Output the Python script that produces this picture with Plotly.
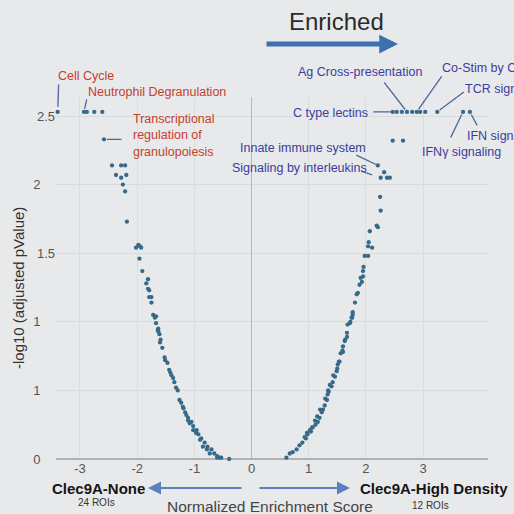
import plotly.graph_objects as go

# ---------------- data ----------------
LEFT_NES = [-3.39, -2.93, -2.88, -2.75, -2.61, -2.58,
            -2.44, -2.28, -2.21, -2.37, -2.28, -2.19, -2.25, -2.21, -2.18,
            -2.02, -1.98, -1.95, -1.93, -1.96, -1.91, -1.81, -1.84, -1.81, -1.79,
            -1.79, -1.75, -1.75, -1.72, -1.67, -1.67, -1.63,
            -1.63, -1.61, -1.60, -1.56, -1.51, -1.47, -1.44, -1.42, -1.40, -1.35,
            -1.32, -1.26, -1.23, -1.19, -1.14, -1.11, -1.05, -1.02, -0.96, -0.93,
            -0.88, -0.82, -0.77, -0.70, -0.65, -0.60, -0.53, -0.39,
            -1.69, -1.64, -1.59, -1.52, -1.37, -1.29, -1.20, -1.16, -1.11, -1.08,
            -1.02, -0.97, -0.90, -0.85, -0.78, -0.73, -0.60, -0.55]
LEFT_LOGP = [2.53, 2.53, 2.53, 2.53, 2.53, 2.33,
             2.14, 2.14, 2.14, 2.07, 2.05, 2.07, 2.00, 1.95, 1.73,
             1.54, 1.56, 1.55, 1.54, 1.46, 1.37, 1.31, 1.28, 1.24, 1.23,
             1.18, 1.18, 1.14, 1.05, 1.04, 0.99, 0.95,
             0.93, 0.91, 0.85, 0.81, 0.72, 0.70, 0.65, 0.63, 0.61, 0.56,
             0.52, 0.43, 0.41, 0.37, 0.32, 0.30, 0.27, 0.24, 0.21, 0.18,
             0.15, 0.12, 0.09, 0.07, 0.04, 0.02, 0.01, 0.00,
             1.03, 0.94, 0.87, 0.74, 0.59, 0.50, 0.38, 0.34, 0.28, 0.26,
             0.21, 0.19, 0.14, 0.09, 0.07, 0.04, 0.01, 0.01]

RIGHT_NES = [2.47, 2.54, 2.63, 2.72, 2.81, 2.89, 2.95, 3.04, 3.25, 3.70, 3.82,
             2.47, 2.65, 2.21, 2.32, 2.26, 2.37, 2.42, 2.25, 2.26, 2.19, 2.21,
             2.07, 2.05, 2.04, 2.11, 1.98, 2.04, 1.96, 1.95, 1.95, 1.91, 1.93,
             1.89, 1.86, 1.84, 1.81, 1.77, 1.77, 1.75, 1.72, 1.68, 1.67, 1.67,
             1.63, 1.60, 1.60, 1.56, 1.54, 1.51, 1.49, 1.46, 1.42, 1.40, 1.35,
             1.33, 1.32, 1.28, 1.25, 1.23, 1.19, 1.16, 1.12, 1.07, 1.04, 0.98,
             0.95, 0.89, 0.84, 0.79, 0.72, 0.67, 0.61,
             0.93, 0.97, 1.02, 1.06, 1.11, 1.15, 1.20, 1.29, 1.34, 1.37, 1.43,
             1.50, 1.53, 1.59, 1.64, 1.73, 1.76]
RIGHT_LOGP = [2.53, 2.53, 2.53, 2.53, 2.53, 2.53, 2.53, 2.53, 2.53, 2.53, 2.53,
              2.32, 2.32, 2.14, 2.09, 2.05, 2.05, 2.05, 1.91, 1.81, 1.70, 1.69,
              1.66, 1.58, 1.55, 1.54, 1.48, 1.48, 1.40, 1.37, 1.33, 1.32, 1.29,
              1.27, 1.21, 1.20, 1.14, 1.07, 1.05, 1.03, 0.99, 0.98, 0.92, 0.89,
              0.86, 0.82, 0.78, 0.77, 0.71, 0.69, 0.64, 0.60, 0.56, 0.53, 0.49,
              0.47, 0.43, 0.39, 0.36, 0.34, 0.30, 0.27, 0.25, 0.23, 0.20, 0.18,
              0.15, 0.12, 0.10, 0.07, 0.05, 0.04, 0.01,
              0.16, 0.19, 0.21, 0.23, 0.28, 0.31, 0.36, 0.44, 0.50, 0.54, 0.61,
              0.66, 0.71, 0.79, 0.87, 1.00, 1.03]

X_TICKS = [-3, -2, -1, 0, 1, 2, 3]
X_TICK_LABELS = ["-3", "-2", "-1", "0", "1", "2", "3"]
Y_TICKS = [0, 0.5, 1, 1.5, 2, 2.5]
Y_TICK_LABELS = ["0", "1", "1", "1.5", "2", "2.5"]

# labelled pathways: (text, index into series)
LEFT_LABELS = [("Cell Cycle", 0), ("Neutrophil Degranulation", 1),
               ("Transcriptional<br>regulation of<br>granulopoiesis", 5)]
RIGHT_LABELS = [("C type lectins", 0), ("Ag Cross-presentation", 3),
                ("Co-Stim by CD28", 5), ("TCR signaling", 8),
                ("IFN signaling", 10), ("IFNγ signaling", 9),
                ("Innate immune system", 13), ("Signaling by interleukins", 15)]

# ---------------- layout geometry ----------------
W = H = 514
L, R, T, B = 56, 488, 97, 459
X_RANGE = [(L - 251.5) / 57.17, (R - 251.5) / 57.17]
Y_RANGE = [0, (B - T) / 137.2]


def px(x):
    return (x - L) / (R - L)


def py(y):
    return (B - y) / (B - T)


FONT = "Liberation Sans, Arial, sans-serif"
BG = "#e8e9eb"
RED = "#c4402c"
BLUE_TXT = "#3a3d9e"
LINE_C = "#4e6699"
DOT = "#356a8a"

fig = go.Figure()
fig.add_trace(go.Scatter(x=LEFT_NES, y=LEFT_LOGP, mode="markers",
                         marker=dict(size=4.3, color=DOT), cliponaxis=False,
                         showlegend=False))
fig.add_trace(go.Scatter(x=RIGHT_NES, y=RIGHT_LOGP, mode="markers",
                         marker=dict(size=4.3, color=DOT), cliponaxis=False,
                         showlegend=False))

ann = []

# leader lines: (series x, series y, idx, ax, ay, standoff)
leaders = [
    (LEFT_NES, LEFT_LOGP, 0, 1, -29, 5),
    (LEFT_NES, LEFT_LOGP, 1, 3, -14, 3),
    (LEFT_NES, LEFT_LOGP, 5, 19, 0, 3),
    (RIGHT_NES, RIGHT_LOGP, 0, -21, 0, 2),
    (RIGHT_NES, RIGHT_LOGP, 3, -24, -31, 3),
    (RIGHT_NES, RIGHT_LOGP, 5, 26, -37, 3),
    (RIGHT_NES, RIGHT_LOGP, 8, 28, -21, 3),
    (RIGHT_NES, RIGHT_LOGP, 10, 8, 15, 3),
    (RIGHT_NES, RIGHT_LOGP, 9, -13, 27, 3),
    (RIGHT_NES, RIGHT_LOGP, 13, -23, -11, 2),
    (RIGHT_NES, RIGHT_LOGP, 15, -21, -7, 9),
]
for xs, ys, i, ax, ay, so in leaders:
    ann.append(dict(x=xs[i], y=ys[i], xref="x", yref="y", text="",
                    showarrow=True, arrowhead=0, arrowwidth=1.3,
                    arrowcolor=LINE_C, ax=ax, ay=ay, standoff=so))

# label texts: (left px, center y px, color)
text_pos = {
    "Cell Cycle": (56, 76, RED),
    "Neutrophil Degranulation": (86, 92, RED),
    "Transcriptional<br>regulation of<br>granulopoiesis": (131, 135, RED),
    "C type lectins": (291, 113, BLUE_TXT),
    "Ag Cross-presentation": (296, 72, BLUE_TXT),
    "Co-Stim by CD28": (440, 68, BLUE_TXT),
    "TCR signaling": (463, 89, BLUE_TXT),
    "IFN signaling": (465, 136, BLUE_TXT),
    "IFNγ signaling": (420, 152, BLUE_TXT),
    "Innate immune system": (238, 148, BLUE_TXT),
    "Signaling by interleukins": (230, 168, BLUE_TXT),
}
for name, _ in LEFT_LABELS + RIGHT_LABELS:
    lx, ly, col = text_pos[name]
    ann.append(dict(x=px(lx), y=py(ly), xref="paper", yref="paper",
                    text=name, showarrow=False, xanchor="left",
                    yanchor="middle", align="left",
                    font=dict(family=FONT, size=12.5, color=col)))

# Enriched header + arrow
ann.append(dict(x=px(336), y=py(21), xref="paper", yref="paper",
                text="Enriched", showarrow=False, xanchor="center",
                yanchor="middle", font=dict(family=FONT, size=24, color="#2b2b2b")))
ann.append(dict(x=px(398), y=py(44), xref="paper", yref="paper", text="",
                showarrow=True, arrowhead=2, arrowwidth=5, arrowsize=0.75,
                arrowcolor="#3e6fae", ax=-133, ay=0))

# bottom direction labels
ann.append(dict(x=px(148), y=py(488), xref="paper", yref="paper", text="",
                showarrow=True, arrowhead=2, arrowwidth=2, arrowsize=1.3,
                arrowcolor="#5a80bf", ax=95, ay=0))
ann.append(dict(x=px(350), y=py(488), xref="paper", yref="paper", text="",
                showarrow=True, arrowhead=2, arrowwidth=2, arrowsize=1.3,
                arrowcolor="#5a80bf", ax=-92, ay=0))
ann.append(dict(x=px(147), y=py(488), xref="paper", yref="paper",
                text="<b>Clec9A-None</b>", showarrow=False, xanchor="right",
                yanchor="middle", font=dict(family=FONT, size=15, color="#151515")))
ann.append(dict(x=px(358), y=py(488), xref="paper", yref="paper",
                text="<b>Clec9A-High Density</b>", showarrow=False, xanchor="left",
                yanchor="middle", font=dict(family=FONT, size=15, color="#151515")))
ann.append(dict(x=px(96), y=py(503), xref="paper", yref="paper",
                text="24 ROIs", showarrow=False, xanchor="center",
                yanchor="middle", font=dict(family=FONT, size=10, color="#333")))
ann.append(dict(x=px(430), y=py(505), xref="paper", yref="paper",
                text="12 ROIs", showarrow=False, xanchor="center",
                yanchor="middle", font=dict(family=FONT, size=10, color="#333")))
ann.append(dict(x=px(270), y=py(506), xref="paper", yref="paper",
                text="Normalized Enrichment Score", showarrow=False,
                xanchor="center", yanchor="middle",
                font=dict(family=FONT, size=15.5, color="#444")))
ann.append(dict(x=px(18), y=py(288), xref="paper", yref="paper",
                text="-log10 (adjusted pValue)", showarrow=False, textangle=-90,
                xanchor="center", yanchor="middle",
                font=dict(family=FONT, size=15, color="#333")))

w_max = max(len(t) for t in Y_TICK_LABELS)
y_text = [t + "\u00a0" * 2 * (w_max - len(t)) for t in Y_TICK_LABELS]

fig.update_layout(
    width=W, height=H,
    margin=dict(l=L, r=W - R, t=T, b=H - B, pad=0),
    paper_bgcolor=BG, plot_bgcolor=BG,
    font=dict(family=FONT),
    annotations=ann,
    xaxis=dict(range=X_RANGE, tickvals=X_TICKS, ticktext=X_TICK_LABELS,
               showgrid=True, gridcolor="#dcdddf", gridwidth=1,
               zeroline=True, zerolinecolor="#b5b6b8", zerolinewidth=1,
               showline=False, ticks="",
               tickfont=dict(family=FONT, size=13, color="#555")),
    yaxis=dict(range=Y_RANGE, tickvals=Y_TICKS, ticktext=y_text,
               showgrid=True, gridcolor="#d9dadc", gridwidth=1,
               zeroline=True, zerolinecolor="#b0b1b3", zerolinewidth=1.5,
               showline=False, ticks="",
               tickfont=dict(family=FONT, size=13, color="#555")),
)

fig.write_html("out.html")
